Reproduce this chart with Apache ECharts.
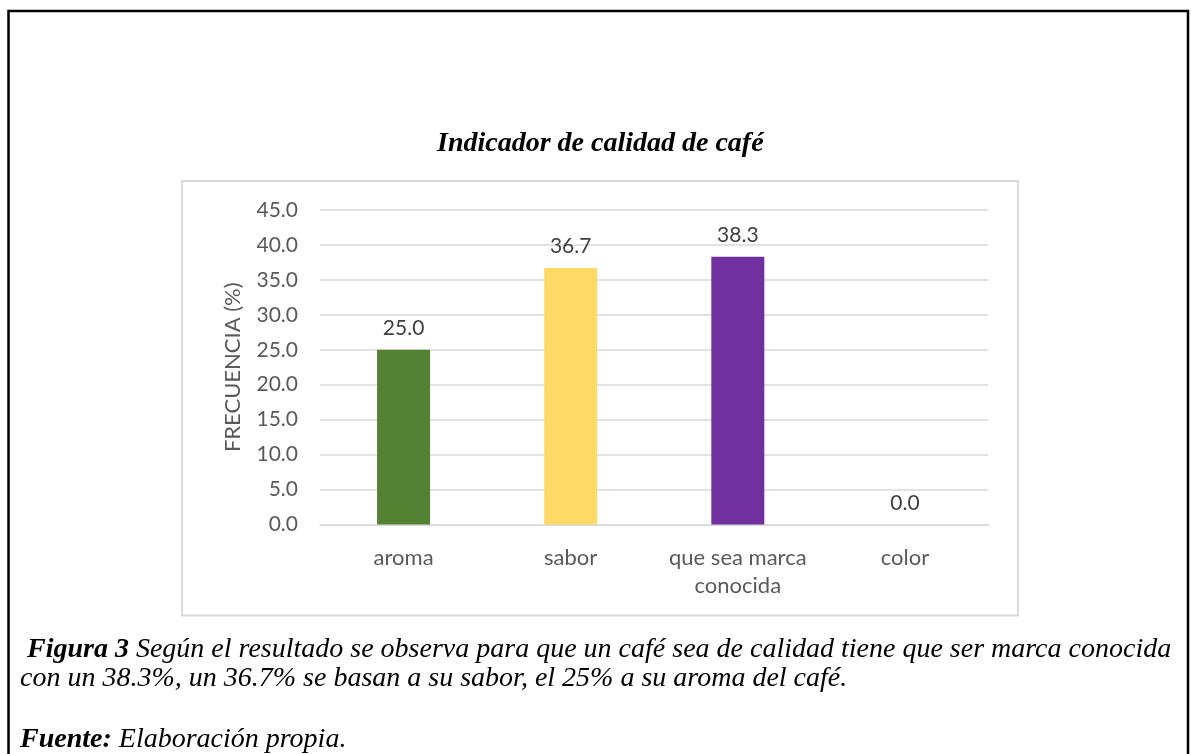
<!DOCTYPE html>
<html>
<head>
<meta charset="utf-8">
<script src="https://cdn.jsdelivr.net/npm/echarts@6/dist/echarts.min.js"></script>
<style>
  html, body { margin: 0; padding: 0; background: #fff; }
  #chart { width: 1191px; height: 754px; }
</style>
</head>
<body>
<div id="chart"></div>
<script>
// Indicador de calidad de café: frequency (%) per quality criterion
const categories = ['aroma', 'sabor', 'que sea marca\nconocida', 'color'];
const frecuencia = [25.0, 36.7, 38.3, 0.0];
const barColors = ['#548235', '#FFD966', '#7030A0', '#4472C4'];
const yTicks = { min: 0, max: 45, interval: 5 };

const chartTitle = 'Indicador de calidad de café';
const axisName = 'FRECUENCIA (%)';
const captionLine1Bold = ' Figura 3';
const captionLine1 = ' Según el resultado se observa para que un café sea de calidad tiene que ser marca conocida';
const captionLine2 = 'con un 38.3%, un 36.7% se basan a su sabor, el 25% a su aroma del café.';
const sourceBold = 'Fuente:';
const sourceText = ' Elaboración propia.';

const sans = 'Lato, "Open Sans", sans-serif';
const serif = '"Liberation Serif", "Times New Roman", serif';

const chart = echarts.init(document.getElementById('chart'), null, { renderer: 'canvas' });

const captionRich = {
  b: { fontFamily: serif, fontStyle: 'italic', fontWeight: 'bold', fontSize: 28, lineHeight: 29, fill: '#000' },
  i: { fontFamily: serif, fontStyle: 'italic', fontSize: 28, lineHeight: 29, fill: '#000' }
};

chart.setOption({
  backgroundColor: '#ffffff',
  animation: false,
  title: {
    text: chartTitle,
    left: 432,
    top: 125,
    textStyle: {
      fontFamily: serif,
      fontStyle: 'italic',
      fontWeight: 'bold',
      fontSize: 28,
      color: '#000000'
    }
  },
  grid: { left: 320, right: 202.5, top: 210, bottom: 229.5, containLabel: false },
  xAxis: {
    type: 'category',
    data: categories,
    axisLine: { show: true, lineStyle: { color: '#d9d9d9', width: 1.5 } },
    axisTick: { show: false },
    axisLabel: {
      color: '#595959',
      fontFamily: sans,
      fontSize: 22,
      margin: 19,
      lineHeight: 28,
      interval: 0
    }
  },
  yAxis: {
    type: 'value',
    min: yTicks.min,
    max: yTicks.max,
    interval: yTicks.interval,
    name: axisName,
    nameLocation: 'middle',
    nameGap: 76,
    nameRotate: 90,
    nameTextStyle: { color: '#595959', fontFamily: sans, fontSize: 22 },
    axisLine: { show: false },
    axisTick: { show: false },
    axisLabel: {
      color: '#595959',
      fontFamily: sans,
      fontSize: 21,
      margin: 22,
      formatter: v => v.toFixed(1)
    },
    splitLine: { lineStyle: { color: '#d9d9d9', width: 1.5 } }
  },
  series: [{
    type: 'bar',
    data: frecuencia.map((v, i) => ({ value: v, itemStyle: { color: barColors[i] } })),
    barWidth: 53,
    label: {
      show: true,
      position: 'top',
      distance: 11,
      color: '#404040',
      fontFamily: sans,
      fontSize: 21,
      formatter: p => p.value.toFixed(1)
    }
  }],
  graphic: [
    // outer frame
    {
      type: 'rect',
      shape: { x: 8.5, y: 11, width: 1179.5, height: 800 },
      style: { fill: 'none', stroke: '#000000', lineWidth: 2.5 },
      silent: true
    },
    // chart area frame
    {
      type: 'rect',
      shape: { x: 182, y: 181, width: 836, height: 434.5 },
      style: { fill: 'none', stroke: '#d9d9d9', lineWidth: 1.8 },
      silent: true
    },
    // caption
    {
      type: 'text',
      left: 20,
      top: 636,
      style: {
        text: '{b|' + captionLine1Bold + '}{i|' + captionLine1 + '}\n{i|' + captionLine2 + '}',
        rich: captionRich
      }
    },
    {
      type: 'text',
      left: 20,
      top: 726,
      style: {
        text: '{b|' + sourceBold + '}{i|' + sourceText + '}',
        rich: captionRich
      }
    }
  ]
});
</script>
</body>
</html>
